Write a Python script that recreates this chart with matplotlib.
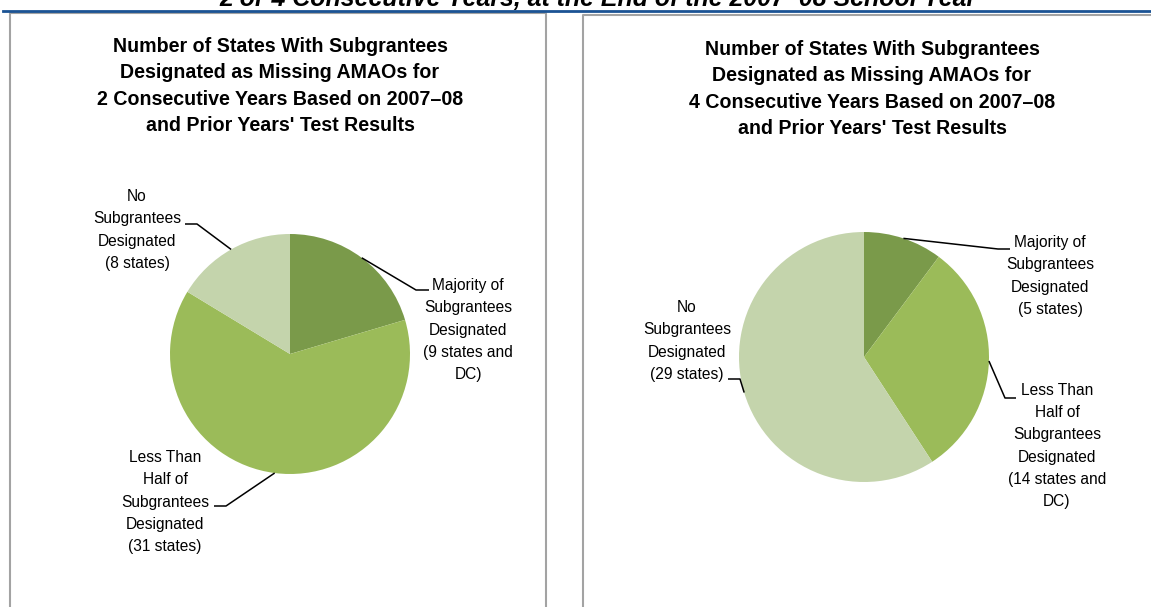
import matplotlib
matplotlib.use("Agg")
import matplotlib.pyplot as plt
from matplotlib import font_manager
from matplotlib.lines import Line2D
import numpy as np

# ---------------- data ----------------
categories = ["Majority of Subgrantees Designated",
              "Less Than Half of Subgrantees Designated",
              "No Subgrantees Designated"]
values_2yr = [10, 31, 8]     # 9 states + DC, 31 states, 8 states
values_4yr = [5, 15, 29]     # 5 states, 14 states + DC, 29 states
labels_2yr = ["Majority of\nSubgrantees\nDesignated\n(9 states and\nDC)",
              "Less Than\nHalf of\nSubgrantees\nDesignated\n(31 states)",
              "No\nSubgrantees\nDesignated\n(8 states)"]
labels_4yr = ["Majority of\nSubgrantees\nDesignated\n(5 states)",
              "Less Than\nHalf of\nSubgrantees\nDesignated\n(14 states and\nDC)",
              "No\nSubgrantees\nDesignated\n(29 states)"]
title_2yr = ("Number of States With Subgrantees\nDesignated as Missing AMAOs for\n"
             "2 Consecutive Years Based on 2007\u201308\nand Prior Years' Test Results")
title_4yr = ("Number of States With Subgrantees\nDesignated as Missing AMAOs for\n"
             "4 Consecutive Years Based on 2007\u201308\nand Prior Years' Test Results")
header = "2 or 4 Consecutive Years, at the End of the 2007\u201308 School Year"
colors = ["#7A9A4A", "#9BBB59", "#C4D4AC"]

# ---------------- fonts ----------------
def has_font(name):
    try:
        font_manager.findfont(font_manager.FontProperties(family=name),
                              fallback_to_default=False)
        return True
    except Exception:
        return False

NARROW = "Liberation Sans Narrow" if has_font("Liberation Sans Narrow") else "Liberation Sans"
WIDE = "Liberation Sans"

W, H = 1151, 607
DPI = 100
fig = plt.figure(figsize=(W / DPI, H / DPI), dpi=DPI)
fig.patch.set_facecolor("white")

def fx(x):
    return x / W

def fy(y):
    return 1 - y / H

renderer = fig.canvas.get_renderer()

def fit_size(text, family, weight, style, target_px, base=12):
    t = fig.text(0, 0, text, family=family, weight=weight, style=style, fontsize=base)
    w = t.get_window_extent(renderer).width
    t.remove()
    return base * target_px / w

# ---------------- frame ----------------
grey = "#A3A3A3"
fig.add_artist(Line2D([fx(10), fx(10), fx(546), fx(546)],
                      [fy(620), fy(12.5), fy(12.5), fy(620)],
                      color=grey, lw=1.5, transform=fig.transFigure))
fig.add_artist(Line2D([fx(583), fx(583), fx(1160)],
                      [fy(620), fy(15), fy(15)],
                      color=grey, lw=1.5, transform=fig.transFigure))
fig.add_artist(Line2D([fx(3), fx(1151)], [fy(10.5), fy(10.5)],
                      color="#1B5394", lw=2.0, transform=fig.transFigure))

# header (cut off at the top edge, as in the source page)
hs = fit_size(header, WIDE, "bold", "italic", 753)
fig.text(fx(598), fy(6), header, family=WIDE, weight="bold", style="italic",
         fontsize=hs, ha="center", va="baseline")

# ---------------- pies ----------------
title_fs = fit_size("Number of States With Subgrantees", NARROW, "bold", "normal", 335)
label_fs = fit_size("Subgrantees", NARROW, "normal", "normal", 88)

def make_pie(cx, cy, r, values, labels, title, title_xy, label_specs):
    ax = fig.add_axes([fx(cx - r), fy(cy + r), 2 * r / W, 2 * r / H])
    wedges, _ = ax.pie(values, colors=colors, startangle=90, counterclock=False,
                       radius=1, center=(0, 0),
                       wedgeprops=dict(linewidth=0, edgecolor="none"))
    ax.set_xlim(-1, 1)
    ax.set_ylim(-1, 1)
    ax.axis("off")

    def px(x, y):
        return ((x - cx) / r, (cy - y) / r)

    for wdg, lab, spec in zip(wedges, labels, label_specs):
        mid = np.deg2rad((wdg.theta1 + wdg.theta2) / 2)
        sx, sy = np.cos(mid), np.sin(mid)
        ex, ey = px(*spec["elbow"])
        nx, ny = px(*spec["end"])
        ax.plot([sx, ex, nx], [sy, ey, ny], color="black", lw=1.1,
                clip_on=False, solid_capstyle="butt")
        tx, ty = px(*spec["text"])
        ax.text(tx, ty, lab, family=NARROW, fontsize=label_fs, ha="center",
                va="center", linespacing=1.6, multialignment="center",
                clip_on=False)
    fig.text(fx(title_xy[0]), fy(title_xy[1]), title, family=NARROW,
             weight="bold", fontsize=title_fs, ha="center", va="center",
             linespacing=1.48, multialignment="center")
    return ax

make_pie(290, 354, 120, values_2yr, labels_2yr, title_2yr, (280, 86),
         [dict(elbow=(416, 290), end=(429, 290), text=(468, 330)),
          dict(elbow=(226, 506), end=(214, 506), text=(165, 502)),
          dict(elbow=(197, 224), end=(185, 224), text=(137, 230))])

make_pie(864, 357, 125, values_4yr, labels_4yr, title_4yr, (872, 89),
         [dict(elbow=(998, 249), end=(1010, 249), text=(1050, 276)),
          dict(elbow=(1005, 398), end=(1016, 398), text=(1057, 446)),
          dict(elbow=(740, 379), end=(728, 379), text=(687, 341))])

fig.savefig("out.png", dpi=DPI, facecolor="white")
